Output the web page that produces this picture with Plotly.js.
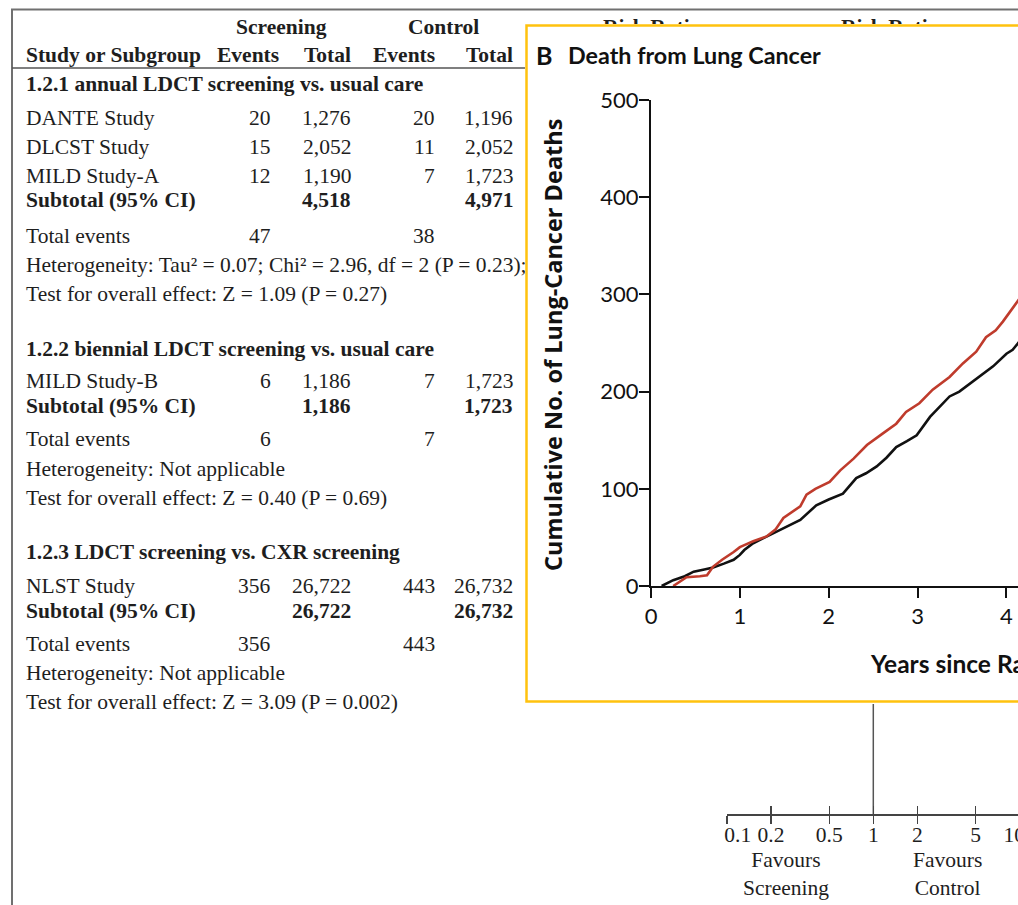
<!DOCTYPE html>
<html><head><meta charset="utf-8">
<script src="https://cdn.plot.ly/plotly-3.0.1.min.js"></script>
<style>
html,body{margin:0;padding:0;overflow:hidden;background:#fff;width:1018px;height:905px;}
#bg{position:absolute;left:0;top:0;width:1060px;height:905px;}
#inset{position:absolute;left:525px;top:24px;width:780px;height:680px;}
</style></head><body>
<div id="bg"></div><div id="inset"></div>
<script>
// ---------------- DATA ----------------
const groupTitles = ['1.2.1 annual LDCT screening vs. usual care', '1.2.2 biennial LDCT screening vs. usual care', '1.2.3 LDCT screening vs. CXR screening'];
const studies = ['DANTE Study', 'DLCST Study', 'MILD Study-A', 'MILD Study-B', 'NLST Study'];
const studyGroup = [0, 0, 0, 1, 2];
const scrEvents = [20, 15, 12, 6, 356];
const scrTotal = [1276, 2052, 1190, 1186, 26722];
const ctlEvents = [20, 11, 7, 7, 443];
const ctlTotal = [1196, 2052, 1723, 1723, 26732];
const heterogeneity = ['Heterogeneity: Tau² = 0.07; Chi² = 2.96, df = 2 (P = 0.23);', 'Heterogeneity: Not applicable', 'Heterogeneity: Not applicable'];
const overallTest = ['Test for overall effect: Z = 1.09 (P = 0.27)', 'Test for overall effect: Z = 0.40 (P = 0.69)', 'Test for overall effect: Z = 3.09 (P = 0.002)'];
const rrTicks = [0.1, 0.2, 0.5, 1, 2, 5, 10];
const rrTickLabels = ['0.1', '0.2', '0.5', '1', '2', '5', '10'];

// inset: cumulative lung-cancer deaths
const redYears = [0.25,0.40,0.55,0.63,0.70,0.80,0.93,1.00,1.05,1.15,1.30,1.40,1.49,1.60,1.68,1.75,1.85,2.01,2.13,2.28,2.43,2.61,2.76,2.87,3.02,3.17,3.36,3.51,3.66,3.77,3.88,3.96,4.05,4.15];
const redDeaths = [0,9,10,11,20,27,35,40,42,46,51,58,70,77,82,94,100,107,119,131,145,157,167,179,188,202,215,229,241,256,263,272,283,296];
const blackYears = [0.12,0.25,0.38,0.48,0.60,0.70,0.82,0.93,1.00,1.05,1.15,1.30,1.45,1.57,1.68,1.86,2.00,2.16,2.31,2.42,2.54,2.65,2.76,2.88,2.99,3.14,3.25,3.36,3.47,3.59,3.72,3.85,4.00,4.07,4.15];
const blackDeaths = [0,6,10,14.7,17,19,23,27,32,37,44,51,58,63,68,83,89,95,111,116,123,132,143,149,155,174,184,195,200,208,217,226,239,243,252];
const yearTicks = [0,1,2,3,4,5,6,7];
const deathTicks = [0,100,200,300,400,500];

// ---------------- BACKGROUND (forest table) ----------------
const W = 1060, H = 905;
const fx = p => p / W, fy = p => 1 - p / H;
const serif = 'Liberation Serif, Times New Roman, serif';
const ink = '#1e1e1e';
const FS = 21.5;
const ann = [];
function T(x, y, s, xa, bold) {
  ann.push({xref:'paper', yref:'paper', x: fx(x), y: fy(y), text: bold ? '<b>' + s + '</b>' : s,
    xanchor: xa, yanchor: 'middle', showarrow: false, borderpad: 0,
    font: {family: serif, size: FS, color: ink}});
}
const fmt = v => v.toLocaleString('en-US');

// layout positions
const groupHeaderY = [84, 349, 552];
const studyRowY = [118, 147, 176, 381, 586];
const subtotalY = [200, 406, 611];
const totalEventsY = [236, 439, 644];
const hetY = [265, 469, 673];
const testY = [294, 498, 702];
const col = {se: 272, st: 352, ce: 436, ct: 514};
const leftX = 25;

// headers
T(281, 27, 'Screening', 'center', true);
T(443, 27, 'Control', 'center', true);
T(651, 27, 'Risk Ratio', 'center', true);
T(889, 27, 'Risk Ratio', 'center', true);
T(leftX, 55, 'Study or Subgroup', 'left', true);
T(280, 55, 'Events', 'right', true);
T(col.st, 55, 'Total', 'right', true);
T(col.ce, 55, 'Events', 'right', true);
T(col.ct, 55, 'Total', 'right', true);

groupTitles.forEach((g, gi) => {
  T(leftX, groupHeaderY[gi], g, 'left', true);
  const idx = studyGroup.map((v, i) => v === gi ? i : -1).filter(i => i >= 0);
  const sum = arr => idx.reduce((a, i) => a + arr[i], 0);
  T(leftX, subtotalY[gi], 'Subtotal (95% CI)', 'left', true);
  T(col.st, subtotalY[gi], fmt(sum(scrTotal)), 'right', true);
  T(col.ct, subtotalY[gi], fmt(sum(ctlTotal)), 'right', true);
  T(leftX, totalEventsY[gi], 'Total events', 'left', false);
  T(col.se, totalEventsY[gi], fmt(sum(scrEvents)), 'right', false);
  T(col.ce, totalEventsY[gi], fmt(sum(ctlEvents)), 'right', false);
  T(leftX, hetY[gi], heterogeneity[gi], 'left', false);
  T(leftX, testY[gi], overallTest[gi], 'left', false);
});
studies.forEach((s, i) => {
  const y = studyRowY[i];
  T(leftX, y, s, 'left', false);
  T(col.se, y, fmt(scrEvents[i]), 'right', false);
  T(col.st, y, fmt(scrTotal[i]), 'right', false);
  T(col.ce, y, fmt(ctlEvents[i]), 'right', false);
  T(col.ct, y, fmt(ctlTotal[i]), 'right', false);
});
// favours labels
ann.push({xref:'paper', yref:'paper', x: fx(786), y: fy(874), text: 'Favours<br>Screening', xanchor:'center', yanchor:'middle', showarrow:false, borderpad:0, font:{family:serif, size:FS, color:ink}});
ann.push({xref:'paper', yref:'paper', x: fx(947), y: fy(874), text: 'Favours<br>Control', xanchor:'center', yanchor:'middle', showarrow:false, borderpad:0, font:{family:serif, size:FS, color:ink}});

const gray = '#707070';
const shapes = [
  {type:'line', xref:'paper', yref:'paper', x0: fx(11), x1: 1, y0: fy(9.5), y1: fy(9.5), line:{color: gray, width: 2}},
  {type:'line', xref:'paper', yref:'paper', x0: fx(12), x1: fx(12), y0: fy(9), y1: 0, line:{color: gray, width: 2}},
  {type:'line', xref:'paper', yref:'paper', x0: fx(12), x1: 1, y0: fy(68), y1: fy(68), line:{color: '#555', width: 1.5}}
];

const axStart = 727, decade = 146.3;
const logRange = [-1, -1 + (W - axStart) / decade];
const axisPos = (H - 814) / H;
const axisCommon = {type:'log', range: logRange, domain:[axStart / W, 1], anchor:'free', position: axisPos,
  tickvals: rrTicks, showgrid:false, zeroline:false, fixedrange:true, ticklen: 8, tickwidth: 1.5, tickcolor:'#444'};

const rrLabels = rrTickLabels.map((t, i) => i === 0 ? '\u2007\u2007' + t : (i === rrTickLabels.length - 1 ? t + '\u2007' : t));
const bgData = [
  {type:'scatter', mode:'lines', x:[1, 1], y:[0, 1], xaxis:'x', yaxis:'y', line:{color:'#555', width:1.5}, hoverinfo:'skip'},
  {type:'scatter', mode:'markers', x:[1], y:[0], xaxis:'x3', yaxis:'y', marker:{opacity:0}, hoverinfo:'skip'}
];
const bgLayout = {
  width: W, height: H, margin:{l:0, r:0, t:0, b:0}, paper_bgcolor:'#fff', plot_bgcolor:'rgba(0,0,0,0)', showlegend:false,
  xaxis: Object.assign({}, axisCommon, {ticks:'outside', showline:true, linecolor:'#444', linewidth:1.5,
    ticktext: rrLabels, ticklabelstandoff: -7, tickfont:{family: serif, size: FS, color: ink}}),
  xaxis3: Object.assign({}, axisCommon, {overlaying:'x', ticks:'inside', showline:false, showticklabels:false}),
  yaxis: {domain:[(H - 814) / H, (H - 690) / H], range:[0, 1], visible:false, fixedrange:true, anchor:'free', position:0},
  annotations: ann, shapes: shapes
};
Plotly.newPlot('bg', bgData, bgLayout, {staticPlot:true});

// ---------------- INSET ----------------
const IW = 780, IH = 680, L = 126, TOP = 76, PW = 622, PH = 486;
const ix = p => (p - L) / PW, iy = p => (TOP + PH - p) / PH;
const sans = 'Lato, Open Sans, sans-serif';
const dark = '#111';
const insetData = [
  {type:'scatter', mode:'lines', x: blackYears, y: blackDeaths, line:{color:'#111', width:2.6}, hoverinfo:'skip'},
  {type:'scatter', mode:'lines', x: redYears, y: redDeaths, line:{color:'#bf3b2c', width:2.6}, hoverinfo:'skip'}
];
const axisBase = {showline:true, linecolor: dark, linewidth:2, ticks:'outside', ticklen:10, tickwidth:2, tickcolor: dark,
  showgrid:false, zeroline:false, fixedrange:true, tickfont:{family: sans, size: 22, color: dark}};
const insetLayout = {
  width: IW, height: IH, margin:{l: L, r: IW - L - PW, t: TOP, b: IH - TOP - PH},
  paper_bgcolor:'#fff', plot_bgcolor:'rgba(0,0,0,0)', showlegend:false,
  xaxis: Object.assign({}, axisBase, {range:[0, 7], tickvals: yearTicks}),
  yaxis: Object.assign({}, axisBase, {range:[0, 500], tickvals: deathTicks, ticklabelstandoff: -4}),
  annotations: [
    {xref:'paper', yref:'paper', x: ix(10), y: iy(31), text:'<b>B</b>', xanchor:'left', yanchor:'middle', showarrow:false, borderpad:0, font:{family: sans, size: 25, color: dark}},
    {xref:'paper', yref:'paper', x: ix(42), y: iy(31), text:'<b>Death from Lung Cancer</b>', xanchor:'left', yanchor:'middle', showarrow:false, borderpad:0, font:{family: sans, size: 23.3, color: dark}},
    {xref:'paper', yref:'paper', x: ix(28), y: iy(345 - 24), text:'<b>Cumulative No. of Lung-Cancer Deaths</b>', textangle:-90, xanchor:'center', yanchor:'middle', showarrow:false, borderpad:0, font:{family: 'Open Sans, Lato, sans-serif', size: 23.5, color: dark}},
    {xref:'paper', yref:'paper', x: ix(344), y: iy(639), text:'<b>Years since Randomization</b>', xanchor:'left', yanchor:'middle', showarrow:false, borderpad:0, font:{family: sans, size: 24.5, color: dark}}
  ],
  shapes: [
    {type:'rect', xref:'paper', yref:'paper', x0: ix(1.5), x1: ix(IW + 40), y0: iy(677.5), y1: iy(1.5), line:{color:'#FFC20E', width:2.5}, fillcolor:'rgba(0,0,0,0)'}
  ]
};
Plotly.newPlot('inset', insetData, insetLayout, {staticPlot:true});
</script>
</body></html>
